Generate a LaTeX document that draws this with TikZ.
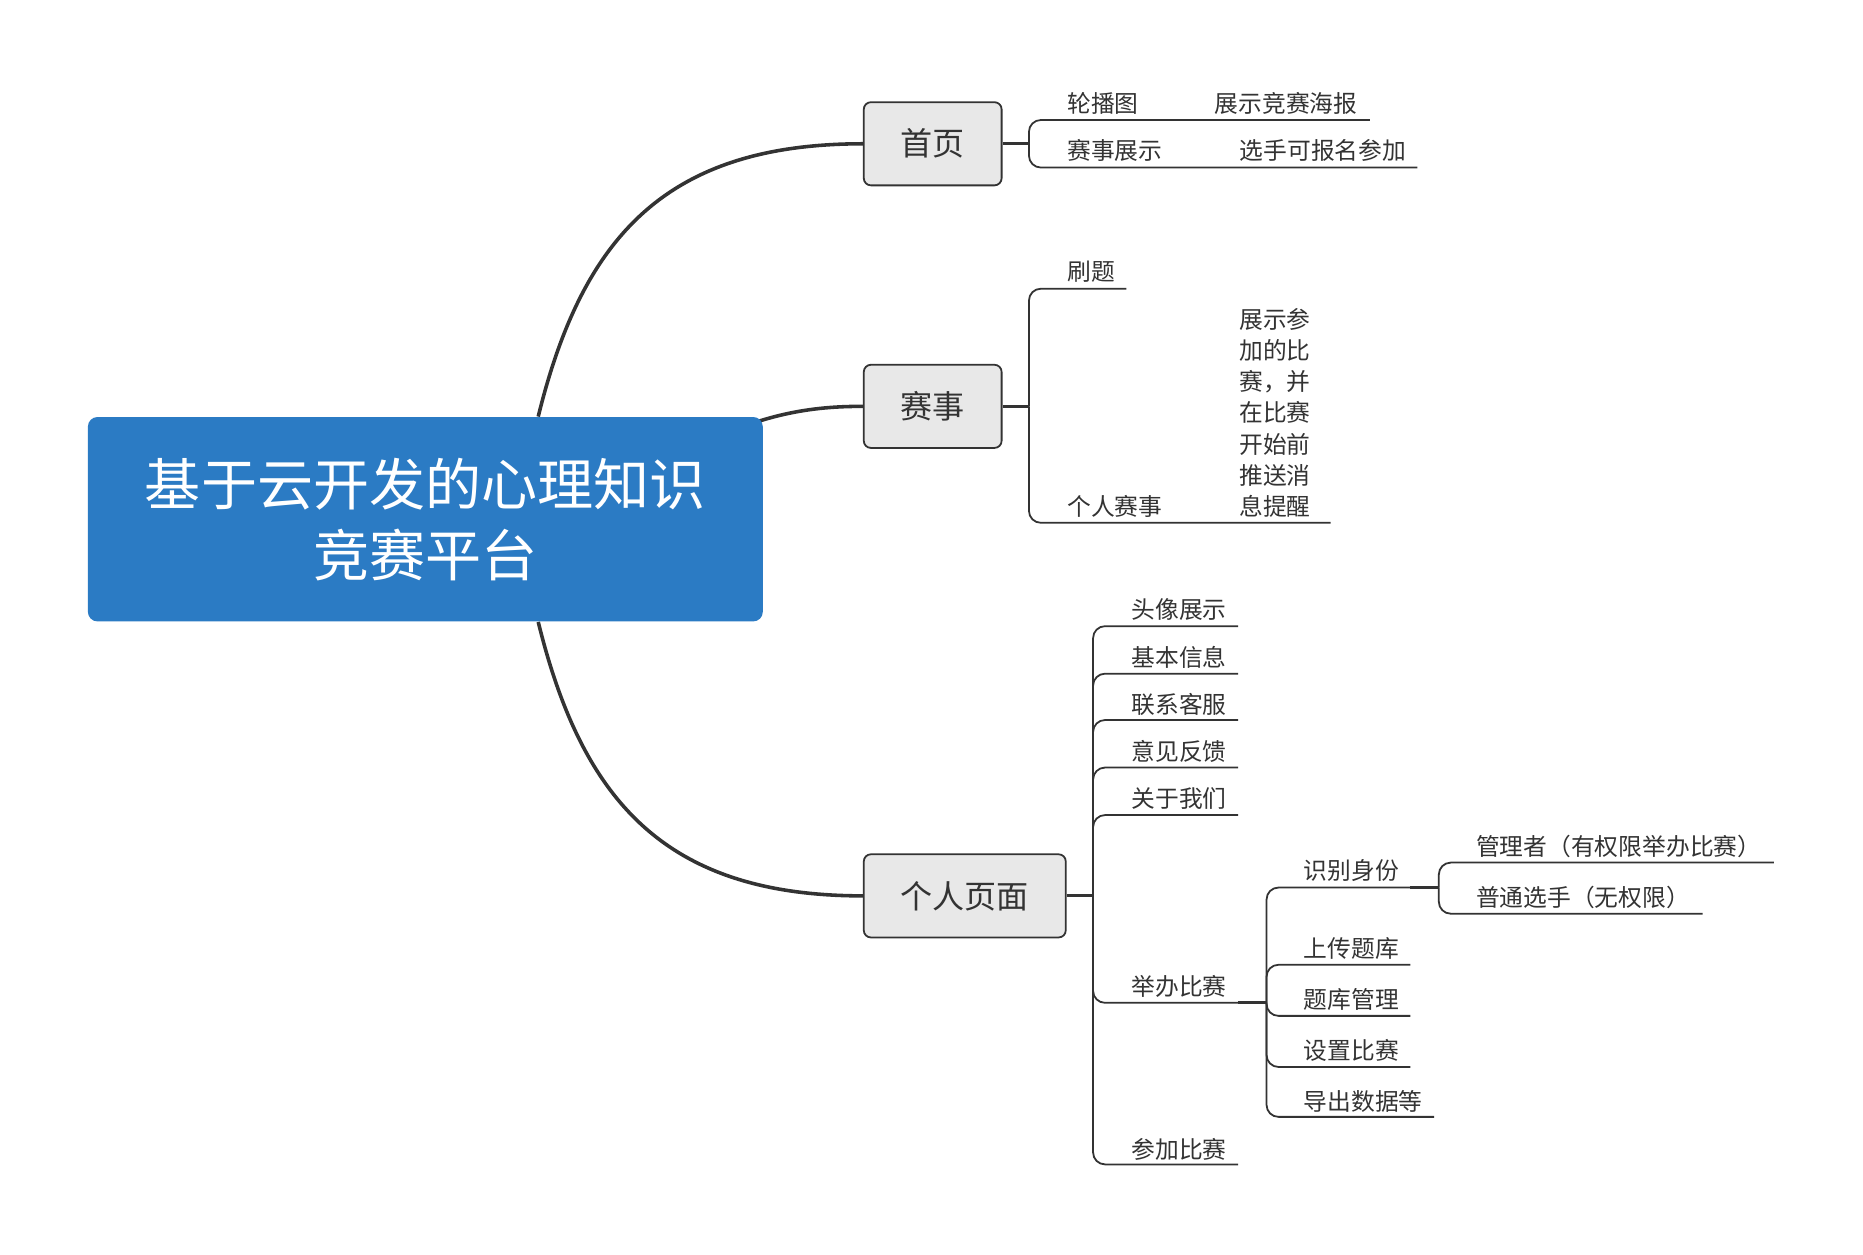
\documentclass[tikz,border=0pt]{standalone}
\usepackage{fontspec}
\setmainfont{Noto Sans CJK SC}
\usetikzlibrary{backgrounds}
\definecolor{rootblue}{HTML}{2B7BC4}
\definecolor{ln}{HTML}{333333}
\definecolor{boxfill}{HTML}{E8E8E8}
\begin{document}
\begin{tikzpicture}[x=0.5pt,y=-0.5pt,
  rootbox/.style={draw=none, fill=rootblue, rounded corners=4pt, minimum width=284pt, minimum height=86pt, inner sep=0pt, align=center, text=white, font=\fontsize{23.6pt}{30pt}\selectfont},
  mainbox/.style={draw=ln, fill=boxfill, rounded corners=3pt, line width=0.75pt, minimum height=35pt, inner sep=0pt, text=ln, font=\fontsize{13.5pt}{16pt}\selectfont},
  leaf/.style={anchor=west, inner sep=0pt, text=ln, font=\fontsize{10pt}{13.1pt}\selectfont},
  conn/.style={draw=ln, line width=1.5pt},
  stub/.style={draw=ln, line width=1.2pt},
  sub/.style={draw=ln, line width=0.75pt, rounded corners=5pt}]
\useasboundingbox (0,0) rectangle (1568,1056);

% main nodes
\node[rootbox] (root) at (358,437) {基于云开发的心理知识\\竞赛平台};
\node[mainbox, minimum width=58pt] (home) at (785,121) {首页};
\node[mainbox, minimum width=58pt] (match) at (785,342) {赛事};
\node[mainbox, minimum width=85pt] (me) at (812,754) {个人页面};

% main curves
\begin{scope}[on background layer]
\draw[conn] ([xshift=47.5pt]root.north) .. controls (490,200) and (560,121) .. (home.west);
\draw[conn] (634,356) .. controls (670,344) and (700,342) .. (match.west);
\draw[conn] ([xshift=47.5pt]root.south) .. controls (490,674) and (560,754) .. (me.west);
\end{scope}

% ---- 首页 branch
\coordinate (hb) at (866,121);
\draw[stub] (home.east) -- (hb);
\node[leaf] (lb) at (898,87) {轮播图};
\node[leaf] (lbd) at (1022,87) {展示竞赛海报};
\node[leaf] (ss) at (898,127) {赛事展示};
\node[leaf] (ssd) at (1043,127) {选手可报名参加};
\coordinate (lbe) at (1153,101);
\coordinate (sse) at (1193,141);
\draw[sub] (hb) |- (lbe);
\draw[sub] (hb) |- (sse);

% ---- 赛事 branch
\coordinate (mb) at (866,342);
\draw[stub] (match.east) -- (mb);
\node[leaf] (st) at (898,229) {刷题};
\node[leaf] (gr) at (898,426) {个人赛事};
\node[leaf, anchor=center, align=left] (grd) at (1073,347.5) {展示参\\加的比\\赛，并\\在比赛\\开始前\\推送消\\息提醒};
\coordinate (ste) at (948,243);
\coordinate (gre) at (1120,440);
\draw[sub] (mb) |- (ste);
\draw[sub] (mb) |- (gre);

% ---- 个人页面 branch
\coordinate (pb) at (920,754);
\draw[stub] (me.east) -- (pb);
\node[leaf] (tx) at (952,513) {头像展示};
\node[leaf] (jb) at (952,553) {基本信息};
\node[leaf] (lx) at (952,593) {联系客服};
\node[leaf] (yj) at (952,632) {意见反馈};
\node[leaf] (gy) at (952,672) {关于我们};
\node[leaf] (jbs) at (952,830) {举办比赛};
\node[leaf] (cj) at (952,967) {参加比赛};
\coordinate (txe) at (1042,527);
\coordinate (jbe) at (1042,567);
\coordinate (lxe) at (1042,606);
\coordinate (yje) at (1042,646);
\coordinate (gye) at (1042,686);
\coordinate (jbse) at (1042,844);
\coordinate (cje) at (1042,980);
\foreach \e in {txe,jbe,lxe,yje,gye,jbse,cje} \draw[sub] (pb) |- (\e);

% ---- 举办比赛 sub-branch
\coordinate (kb) at (1066,844);
\draw[stub] (jbse) -- (kb);
\node[leaf] (sb) at (1097,733) {识别身份};
\node[leaf] (sc) at (1097,798) {上传题库};
\node[leaf] (tk) at (1097,841) {题库管理};
\node[leaf] (sz) at (1097,884) {设置比赛};
\node[leaf] (dc) at (1097,927) {导出数据等};
\coordinate (sbe) at (1187,747);
\coordinate (sce) at (1187,812);
\coordinate (tke) at (1187,855);
\coordinate (sze) at (1187,898);
\coordinate (dce) at (1207,940);
\foreach \e in {sbe,sce,tke,sze,dce} \draw[sub] (kb) |- (\e);

% ---- 识别身份 sub-branch
\coordinate (ib) at (1211,747);
\draw[stub] (sbe) -- (ib);
\node[leaf] (gl) at (1242,712) {管理者（有权限举办比赛）};
\node[leaf] (pt) at (1242,755) {普通选手（无权限）};
\coordinate (gle) at (1493,726);
\coordinate (pte) at (1433,769);
\draw[sub] (ib) |- (gle);
\draw[sub] (ib) |- (pte);
\end{tikzpicture}
\end{document}
